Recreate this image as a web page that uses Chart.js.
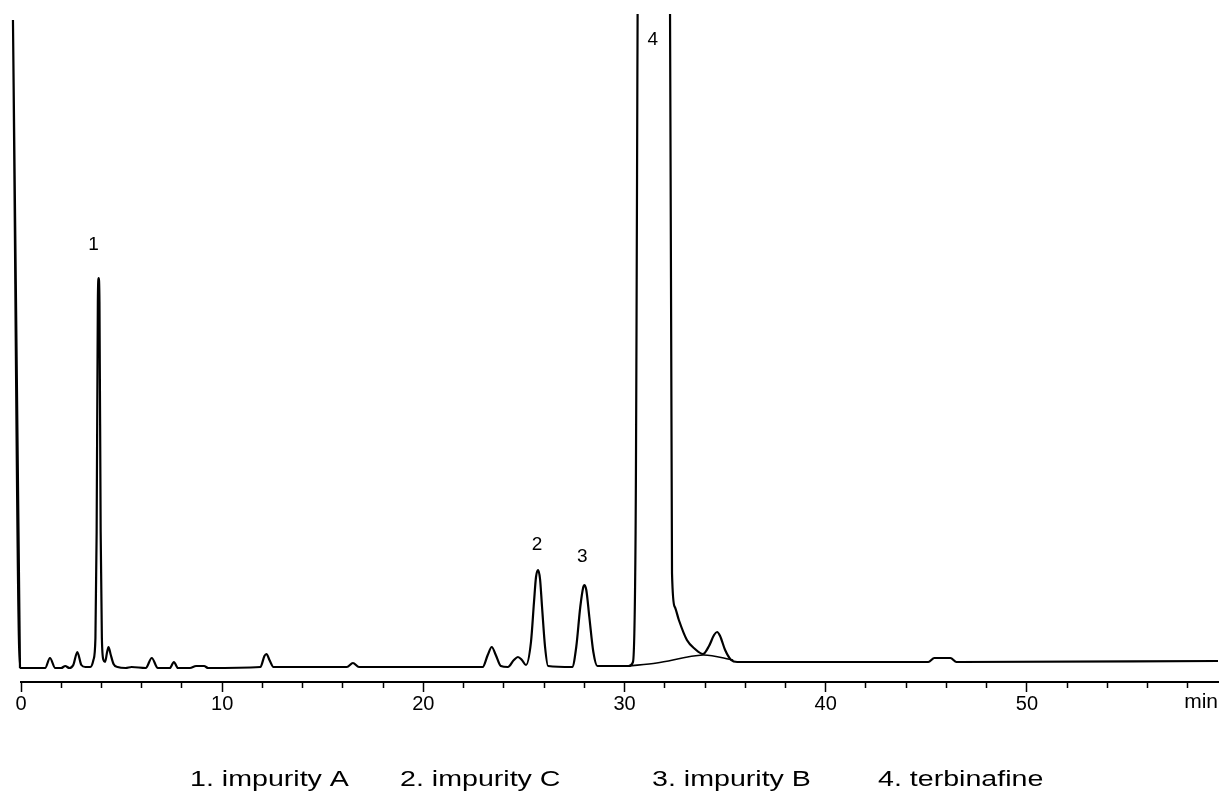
<!DOCTYPE html>
<html>
<head>
<meta charset="utf-8">
<script src="https://cdn.jsdelivr.net/npm/chart.js@4.4.0/dist/chart.umd.min.js"></script>
<style>
  html, body { margin: 0; padding: 0; background: #fff; }
  #wrap { width: 1223px; height: 798px; position: relative; }
</style>
</head>
<body>
<div id="wrap"><canvas id="chromChart"></canvas></div>
<script>
// ---------------- DATA -----------------------------

// detector trace: retention time (min) and response
// (first point repeats the pen-down point so the start spike before 0 min is kept)
const traceTime = [
  -0.05, -0.4, -0.05, 1.2, 1.44, 1.7, 2.0, 2.2, 2.4, 2.6, 2.8, 3.0, 3.2,
  3.45, 3.6, 3.7, 3.76, 3.82, 3.86, 3.9, 3.96, 4.02, 4.1, 4.18, 4.28, 4.35, 4.45, 4.6, 4.8,
  5.2, 5.5, 6.2, 6.5, 6.8, 7.4, 7.6, 7.8, 8.4, 8.7, 9.1, 9.3,
  11.9, 12.1, 12.2, 12.35, 12.55, 16.2, 16.5, 16.8,
  22.95, 23.2, 23.4, 23.6, 23.85, 24.2, 24.5, 24.7, 24.9, 25.1,
  25.35, 25.5, 25.6, 25.7, 25.8, 25.9, 26.05, 26.2,
  27.4, 27.6, 27.8, 27.95, 28.0, 28.1, 28.25, 28.45, 28.65,
  30.2, 30.42, 30.55, 30.72, 32.22, 32.36, 32.5, 32.7, 33.1, 33.5, 33.9,
  34.2, 34.45, 34.6, 34.75, 35.0, 35.3, 35.6,
  45.1, 45.4, 46.2, 46.5, 59.5,
];
const traceSignal = [
  14, 662, 14, 14, 24, 14, 14, 16, 14, 17, 30, 17, 15,
  15, 22, 44, 150, 380, 404, 380, 150, 44, 22, 20, 30, 35, 28, 18, 15,
  14, 15, 14, 24, 14, 14, 20, 14, 14, 16, 16, 14,
  15, 26, 28, 22, 15, 15, 19, 15,
  15, 27, 35, 27, 16, 15, 22, 25, 22, 17,
  40, 80, 105, 112, 103, 75, 35, 16,
  15, 35, 75, 95, 97, 92, 65, 30, 16,
  16, 20, 150, 900, 900, 109, 75, 62, 42, 33, 28,
  36, 47, 50, 46, 32, 22, 20,
  20, 24, 24, 20, 21,
];

// integrator baseline under the terbinafine peak
const baseTime = [30.2, 31.6, 33.9, 35.4];
const baseSignal = [16, 19, 27, 22];

// peak numbers
const peakLabels = ["1", "2", "3", "4"];
const peakLabelTime = [3.6, 25.65, 27.9, 31.4];
const peakLabelSignal = [437, 137, 125, 642];

// axis
const xMin = 0;
const xMax = 59.5;
const minorStep = 2;
const majorStep = 10;
const axisUnit = "min";

const legendItems = ["1. impurity A", "2. impurity C", "3. impurity B", "4. terbinafine"];

// ---------------- CHART -----------------------------

const toPoints = (xs, ys) => xs.map((t, i) => ({ x: t, y: ys[i] }));

const chromData = {
  datasets: [
    {
      data: toPoints(traceTime, traceSignal),
      borderColor: "#000",
      borderWidth: 2.2,
      pointRadius: 0,
      cubicInterpolationMode: "monotone",
      clip: { left: 12, top: 0, right: 2, bottom: 0 },
    },
    {
      data: toPoints(baseTime, baseSignal),
      borderColor: "#000",
      borderWidth: 1.6,
      pointRadius: 0,
      tension: 0.3,
    },
  ],
};

// peak numbers, axis unit and compound list
const annotatePlugin = {
  id: "annotate",
  afterDraw(chart) {
    const { ctx, scales: { x, y } } = chart;
    ctx.save();
    ctx.fillStyle = "#000";
    ctx.textAlign = "center";
    ctx.textBaseline = "middle";
    ctx.font = '19px "Liberation Sans"';
    peakLabels.forEach((lab, i) => {
      ctx.fillText(lab, x.getPixelForValue(peakLabelTime[i]), y.getPixelForValue(peakLabelSignal[i]));
    });

    ctx.font = '21px "Liberation Sans"';
    ctx.textAlign = "right";
    ctx.fillText(axisUnit, x.right, x.top + 20);

    // compound list, drawn a bit wide like the scanned original
    ctx.font = '22px "Liberation Sans"';
    ctx.textAlign = "left";
    const legendX = [190, 400, 652, 878];
    legendItems.forEach((txt, i) => {
      ctx.save();
      ctx.translate(legendX[i], 780);
      ctx.scale(1.3, 1);
      ctx.fillText(txt, 0, 0);
      ctx.restore();
    });
    ctx.restore();
  },
};

const chromConfig = {
  type: "line",
  data: chromData,
  options: {
    responsive: true,
    maintainAspectRatio: false,
    animation: false,
    layout: { padding: { left: 21, right: 5, top: 14, bottom: 76 } },
    plugins: {
      legend: { display: false },
      tooltip: { enabled: false },
    },
    scales: {
      x: {
        type: "linear",
        min: xMin,
        max: xMax,
        border: { display: true, color: "#000", width: 2 },
        grid: {
          drawOnChartArea: false,
          drawTicks: true,
          tickLength: 10,
          tickColor: "#000",
          tickWidth: 1.5,
          tickBorderDash: (c) => (c.tick && c.tick.value % majorStep === 0 ? [] : [5, 30]),
        },
        ticks: {
          stepSize: minorStep,
          autoSkip: false,
          maxRotation: 0,
          includeBounds: false,
          padding: 0,
          color: "#000",
          font: { family: "Liberation Sans", size: 20 },
          callback: (v) => (v % majorStep === 0 ? v : ""),
        },
        afterFit: (s) => { s.height = 40; },
      },
      y: { display: false, min: 0, max: 668 },
    },
  },
  plugins: [annotatePlugin],
};

const chromChart = new Chart(document.getElementById("chromChart"), chromConfig);
</script>
</body>
</html>
